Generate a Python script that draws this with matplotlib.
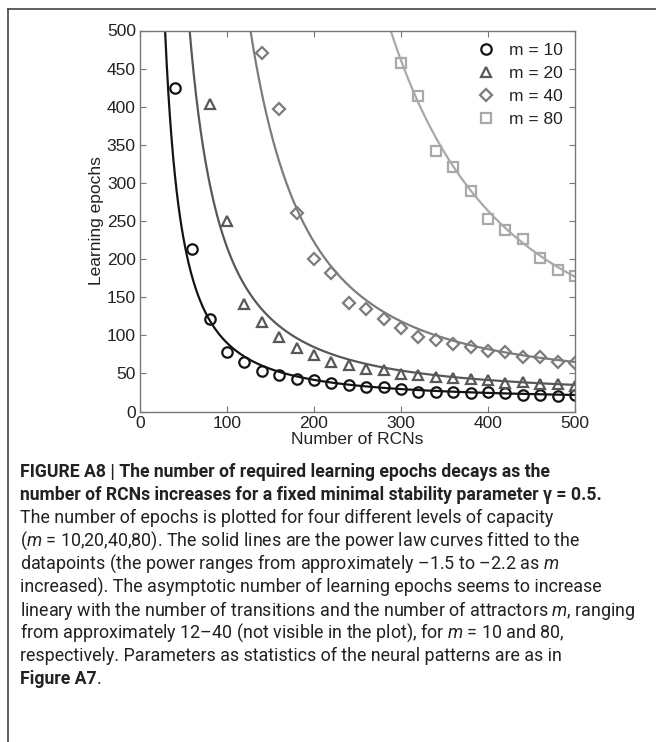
import numpy as np
import matplotlib.pyplot as plt
from matplotlib.lines import Line2D

plt.rcParams['font.family'] = ['Liberation Sans', 'DejaVu Sans']
plt.rcParams['mathtext.fontset'] = 'custom'
plt.rcParams['mathtext.it'] = 'Roboto:italic'
plt.rcParams['mathtext.rm'] = 'Roboto'

# learning epochs vs number of RCNs, one set per capacity m
rcn_m10 = [40, 60, 80, 100, 120, 140, 160, 180, 200, 220, 240, 260, 280, 300,
           320, 340, 360, 380, 400, 420, 440, 460, 480, 500]
epochs_m10 = [424, 213, 121, 78, 65, 53, 48, 43, 41, 37, 35, 32, 32, 30,
              26, 26, 26, 24, 25, 24, 22, 22, 20, 21]

rcn_m20 = [80, 100, 120, 140, 160, 180, 200, 220, 240, 260, 280, 300, 320,
           340, 360, 380, 400, 420, 440, 460, 480, 500]
epochs_m20 = [403, 250, 141, 118, 98, 83, 74, 65, 61, 56, 54, 49, 48,
              45, 44, 42, 41, 37, 39, 36, 36, 33]

rcn_m40 = [140, 160, 180, 200, 220, 240, 260, 280, 300, 320, 340, 360, 380,
           400, 420, 440, 460, 480, 500]
epochs_m40 = [470, 397, 260, 200, 182, 142, 134, 121, 110, 98, 94, 88, 84,
              79, 78, 72, 71, 65, 64]

rcn_m80 = [300, 320, 340, 360, 380, 400, 420, 440, 460, 480, 500]
epochs_m80 = [458, 414, 342, 321, 289, 252, 238, 226, 201, 186, 178]

# power law fits  y = a * x**b + c
fit_a = [7.5e4, 3.1e5, 7.5e6, 1.185e8]
fit_b = [-1.5, -1.6, -2.0, -2.2]
fit_c = [15, 20, 35, 40]
fit_start = [25, 50, 115, 270]

labels = ['m = 10', 'm = 20', 'm = 40', 'm = 80']
colors = ['#141414', '#585858', '#7c7c7c', '#a9a9a9']
markers = ['o', '^', 'D', 's']
msizes = [7.5, 7.5, 6.0, 6.5]

xs = [rcn_m10, rcn_m20, rcn_m40, rcn_m80]
ys = [epochs_m10, epochs_m20, epochs_m40, epochs_m80]

fig = plt.figure(figsize=(6.56, 7.42), dpi=100)
ax = fig.add_axes([140 / 656, 1 - 411.5 / 742, 435 / 656, 381 / 742])

for i in range(4):
    xf = np.linspace(fit_start[i], 500, 500)
    ax.plot(xf, fit_a[i] * xf ** fit_b[i] + fit_c[i], color=colors[i], lw=1.6)
    ax.plot(xs[i], ys[i], linestyle='none', marker=markers[i], ms=msizes[i],
            mfc='none', mec=colors[i], mew=1.6, label=labels[i])

ax.set_xlim(0, 500)
ax.set_ylim(0, 500)
ax.set_xticks([0, 100, 200, 300, 400, 500])
ax.set_yticks(range(0, 501, 50))
ax.tick_params(direction='in', top=True, right=True, length=4, width=0.8,
               color='#777777', labelsize=12.5, labelcolor='#222222', pad=3)
for sp in ax.spines.values():
    sp.set_color('#777777')
    sp.set_linewidth(1.0)
ax.set_xlabel('Number of RCNs', fontsize=12.5, color='#222222', labelpad=1)
ax.set_ylabel('Learning epochs', fontsize=12.5, color='#222222', labelpad=2)

ax.legend(loc='upper right', frameon=False, fontsize=12.5, handlelength=1.0,
          handletextpad=0.85, labelspacing=0.45, borderaxespad=0.3,
          labelcolor='#222222')

# outline around the figure panel
fig.add_artist(Line2D([8 / 656, 1.0], [1 - 9 / 742, 1 - 9 / 742],
                      transform=fig.transFigure, color='#444444', lw=1.2))
fig.add_artist(Line2D([8 / 656, 8 / 656], [0, 1 - 9 / 742],
                      transform=fig.transFigure, color='#444444', lw=1.2))

# caption
cap_font = ['Roboto', 'DejaVu Sans']
cap_lines = [
    ("FIGURE A8 | The number of required learning epochs decays as the", 'bold'),
    ("number of RCNs increases for a fixed minimal stability parameter \u03b3 = 0.5.", 'bold'),
    ("The number of epochs is plotted for four different levels of capacity", 'normal'),
    ("($m$ = 10,20,40,80). The solid lines are the power law curves fitted to the", 'normal'),
    ("datapoints (the power ranges from approximately \u20131.5 to \u20132.2 as $m$", 'normal'),
    ("increased). The asymptotic number of learning epochs seems to increase", 'normal'),
    ("lineary with the number of transitions and the number of attractors $m$, ranging", 'normal'),
    ("from approximately 12\u201340 (not visible in the plot), for $m$ = 10 and 80,", 'normal'),
    ("respectively. Parameters as statistics of the neural patterns are as in", 'normal'),
]
y0 = 472
for k, (txt, wt) in enumerate(cap_lines):
    size = 12.7 if wt == 'bold' else 12.9
    fig.text(20 / 656, 1 - (y0 + 23 * k) / 742, txt, family=cap_font,
             fontsize=size, weight=wt, color='#222222', va='center', ha='left')
yl = 1 - (y0 + 23 * 9) / 742
t = fig.text(20 / 656, yl, "Figure A7", family=cap_font, fontsize=12.7,
             weight='bold', color='#222222', va='center', ha='left')
fig.canvas.draw()
bb = t.get_window_extent()
fig.text(bb.x1 / fig.bbox.width, yl, ".", family=cap_font, fontsize=12.9,
         color='#222222', va='center', ha='left')

fig.savefig('out.png', dpi=100)
